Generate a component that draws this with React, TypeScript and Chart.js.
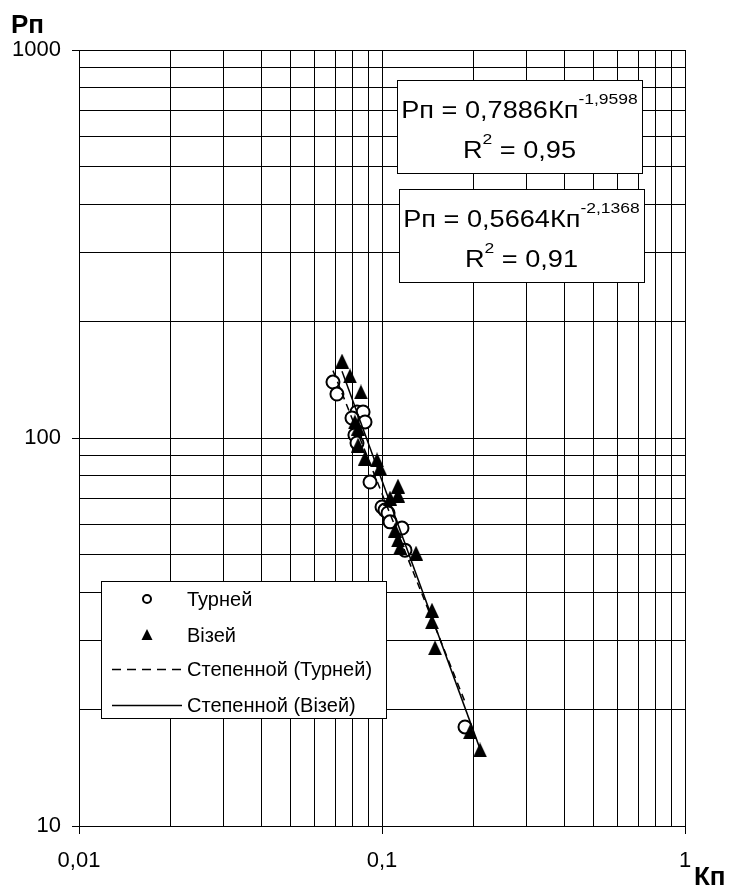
import React, { useEffect, useRef } from "react";
import { Chart, registerables } from "chart.js";

Chart.register(...registerables);

// ---- Data ----
const TOURNEY_K = [0.0689, 0.071, 0.0827, 0.0866, 0.0796, 0.0879, 0.0814, 0.0827, 0.0913, 0.1, 0.1023, 0.1047, 0.1063, 0.1164, 0.1191, 0.1879];
const TOURNEY_P = [139.4, 129.8, 116.7, 116.7, 112.6, 110.0, 101.8, 97.1, 77.0, 66.4, 65.2, 64.1, 60.8, 58.6, 51.4, 18.0];

const VISEI_K = [0.0738, 0.0784, 0.0852, 0.0814, 0.0834, 0.0834, 0.0879, 0.0963, 0.0985, 0.1129, 0.1129, 0.1063, 0.1104, 0.1129, 0.1146, 0.1295, 0.1462, 0.1462, 0.1496, 0.1952, 0.2106];
const VISEI_P = [157.9, 144.5, 131.4, 110.0, 106.1, 95.9, 88.8, 87.8, 83.7, 75.2, 71.3, 70.0, 57.9, 54.6, 52.1, 50.5, 36.0, 33.6, 28.8, 17.5, 15.7];

// power trend fits shown on the chart: P = a * K^b
const TOURNEY_FIT = [0.7886, -1.9598];
const VISEI_FIT = [0.5664, -2.1368];
const TOURNEY_R2 = "0,95";
const VISEI_R2 = "0,91";

const X_TICKS = [0.01, 0.02, 0.03, 0.04, 0.05, 0.06, 0.07, 0.08, 0.09, 0.1, 0.2, 0.3, 0.4, 0.5, 0.6, 0.7, 0.8, 0.9, 1];
const Y_TICKS = [10, 20, 30, 40, 50, 60, 70, 80, 90, 100, 200, 300, 400, 500, 600, 700, 800, 900, 1000];
const X_LABELS: Record<string, string> = { "0.01": "0,01", "0.1": "0,1", "1": "1" };
const Y_LABELS: Record<string, string> = { "10": "10", "100": "100", "1000": "1000" };

const LEGEND_LABELS = ["Турней", "Візей", "Степенной (Турней)", "Степенной (Візей)"];
const Y_TITLE = "Рп";
const X_TITLE = "Кп";

const FONT = "'Liberation Sans', Arial, sans-serif";

const fmt = (v: number) => String(v).replace(".", ",");
const isMajor = (v: number) => Math.abs(Math.log10(v) - Math.round(Math.log10(v))) < 1e-9;

function fitLine(ks: number[], fit: number[]) {
  const lo = Math.min(...ks);
  const hi = Math.max(...ks);
  return [lo, hi].map((k) => ({ x: k, y: fit[0] * Math.pow(k, fit[1]) }));
}

function makeTriangle(w: number, h: number) {
  const c = document.createElement("canvas");
  c.width = w;
  c.height = h;
  const g = c.getContext("2d")!;
  g.fillStyle = "#000";
  g.beginPath();
  g.moveTo(w / 2, 0);
  g.lineTo(w, h);
  g.lineTo(0, h);
  g.closePath();
  g.fill();
  return c;
}

function textW(ctx: CanvasRenderingContext2D, t: string, sx: number) {
  return ctx.measureText(t).width * sx;
}
function drawText(ctx: CanvasRenderingContext2D, t: string, x: number, y: number, sx: number) {
  ctx.save();
  ctx.translate(x, y);
  ctx.scale(sx, 1);
  ctx.fillText(t, 0, 0);
  ctx.restore();
}

const MAIN_SX = 1.18;
const SUP_SX = 1.25;

function drawEqBox(ctx: CanvasRenderingContext2D, box: number[], fit: number[], r2: string) {
  const [l, t, r, b] = box;
  ctx.save();
  ctx.fillStyle = "#fff";
  ctx.fillRect(l, t, r - l, b - t);
  ctx.strokeStyle = "#000";
  ctx.lineWidth = 1;
  ctx.strokeRect(l + 0.5, t + 0.5, r - l, b - t);
  ctx.fillStyle = "#000";
  ctx.textAlign = "left";
  ctx.textBaseline = "alphabetic";
  const cx = (l + r) / 2;
  const mainFont = `23px ${FONT}`;
  const supFont = `14px ${FONT}`;
  // line 1
  const t1 = `Рп = ${fmt(fit[0])}Кп`;
  const s1 = fmt(fit[1]);
  ctx.font = mainFont;
  const w1 = textW(ctx, t1, MAIN_SX);
  ctx.font = supFont;
  const ws1 = textW(ctx, s1, SUP_SX);
  let x0 = cx - (w1 + ws1) / 2;
  const y1 = t + 38;
  ctx.font = mainFont;
  drawText(ctx, t1, x0, y1, MAIN_SX);
  ctx.font = supFont;
  drawText(ctx, s1, x0 + w1, y1 - 14, SUP_SX);
  // line 2
  const a = "R";
  const s2 = "2";
  const c2 = ` = ${r2}`;
  ctx.font = mainFont;
  const wa = textW(ctx, a, MAIN_SX);
  const wc = textW(ctx, c2, MAIN_SX);
  ctx.font = supFont;
  const ws2 = textW(ctx, s2, SUP_SX);
  x0 = cx - (wa + ws2 + wc) / 2;
  const y2 = t + 78;
  ctx.font = mainFont;
  drawText(ctx, a, x0, y2, MAIN_SX);
  drawText(ctx, c2, x0 + wa + ws2, y2, MAIN_SX);
  ctx.font = supFont;
  drawText(ctx, s2, x0 + wa, y2 - 14, SUP_SX);
  ctx.restore();
}

const decorPlugin = {
  id: "decor",
  afterDraw(chart: any) {
    const ctx: CanvasRenderingContext2D = chart.ctx;
    ctx.save();
    // axis titles
    ctx.fillStyle = "#000";
    ctx.font = `bold 26px ${FONT}`;
    ctx.textAlign = "left";
    ctx.textBaseline = "alphabetic";
    ctx.fillText(Y_TITLE, 11, 33);
    ctx.fillText(X_TITLE, 694, 885);

    // equation boxes
    drawEqBox(ctx, [397, 80, 642, 173], TOURNEY_FIT, TOURNEY_R2);
    drawEqBox(ctx, [399, 189, 644, 282], VISEI_FIT, VISEI_R2);

    // legend
    const L = 101, T = 581, R = 386, B = 718;
    ctx.fillStyle = "#fff";
    ctx.fillRect(L, T, R - L, B - T);
    ctx.strokeStyle = "#000";
    ctx.lineWidth = 1;
    ctx.strokeRect(L + 0.5, T + 0.5, R - L, B - T);
    ctx.font = `20px ${FONT}`;
    ctx.textBaseline = "middle";
    ctx.fillStyle = "#000";
    const rows = [599, 635, 669, 705];
    LEGEND_LABELS.forEach((lab, i) => ctx.fillText(lab, 187, rows[i] + 1));
    // circle marker
    ctx.beginPath();
    ctx.arc(147, rows[0], 4, 0, Math.PI * 2);
    ctx.lineWidth = 2;
    ctx.strokeStyle = "#000";
    ctx.fillStyle = "#fff";
    ctx.fill();
    ctx.stroke();
    // triangle marker
    ctx.fillStyle = "#000";
    ctx.beginPath();
    ctx.moveTo(147, rows[1] - 6);
    ctx.lineTo(152.5, rows[1] + 5);
    ctx.lineTo(141.5, rows[1] + 5);
    ctx.closePath();
    ctx.fill();
    // dashed line
    ctx.lineWidth = 1.5;
    ctx.setLineDash([9, 6]);
    ctx.beginPath();
    ctx.moveTo(112, rows[2] + 0.5);
    ctx.lineTo(182, rows[2] + 0.5);
    ctx.stroke();
    ctx.setLineDash([]);
    ctx.beginPath();
    ctx.moveTo(112, rows[3] + 0.5);
    ctx.lineTo(182, rows[3] + 0.5);
    ctx.stroke();
    ctx.restore();
  },
};

export default function App() {
  const ref = useRef<HTMLCanvasElement>(null);
  useEffect(() => {
    if (!ref.current) return;
    const tri = makeTriangle(14, 15);
    const chart = new Chart(ref.current, {
      type: "scatter",
      data: {
        datasets: [
          {
            label: LEGEND_LABELS[2],
            data: fitLine(TOURNEY_K, TOURNEY_FIT),
            showLine: true,
            borderColor: "#000",
            borderWidth: 1.5,
            borderDash: [7, 5],
            pointRadius: 0,
            order: 0,
          },
          {
            label: LEGEND_LABELS[3],
            data: fitLine(VISEI_K, VISEI_FIT),
            showLine: true,
            borderColor: "#000",
            borderWidth: 1.5,
            pointRadius: 0,
            order: 0,
          },
          {
            label: LEGEND_LABELS[0],
            data: TOURNEY_K.map((k, i) => ({ x: k, y: TOURNEY_P[i] })),
            pointStyle: "circle",
            pointRadius: 6.5,
            borderWidth: 2,
            borderColor: "#000",
            backgroundColor: "#fff",
            order: 2,
          },
          {
            label: LEGEND_LABELS[1],
            data: VISEI_K.map((k, i) => ({ x: k, y: VISEI_P[i] })),
            pointStyle: tri as any,
            pointRadius: 7,
            borderColor: "#000",
            backgroundColor: "#000",
            order: 1,
          },
        ],
      },
      options: {
        animation: false,
        responsive: false,
        maintainAspectRatio: false,
        layout: { padding: { top: 50, right: 48, left: 0, bottom: 0 } },
        plugins: { legend: { display: false }, tooltip: { enabled: false } },
        scales: {
          x: {
            type: "logarithmic",
            min: 0.01,
            max: 1,
            afterBuildTicks: (s: any) => {
              s.ticks = X_TICKS.map((v) => ({ value: v }));
            },
            afterFit: (s: any) => {
              s.height = 64;
            },
            ticks: {
              autoSkip: false,
              maxRotation: 0,
              padding: 14,
              color: "#000",
              font: { family: FONT, size: 22 },
              callback: (v: any) => X_LABELS[String(v)] ?? "",
            },
            grid: {
              color: "#000",
              lineWidth: 1,
              tickLength: 8,
              tickColor: (c: any) => (c.tick && isMajor(c.tick.value) ? "#000" : "rgba(0,0,0,0)"),
            },
            border: { color: "#000", width: 1 },
          },
          y: {
            type: "logarithmic",
            min: 10,
            max: 1000,
            afterBuildTicks: (s: any) => {
              s.ticks = Y_TICKS.map((v) => ({ value: v }));
            },
            afterFit: (s: any) => {
              s.width = 79;
            },
            ticks: {
              autoSkip: false,
              padding: 11,
              color: "#000",
              font: { family: FONT, size: 22 },
              callback: (v: any) => Y_LABELS[String(v)] ?? "",
            },
            grid: {
              color: "#000",
              lineWidth: 1,
              tickLength: 7,
              tickColor: (c: any) => (c.tick && isMajor(c.tick.value) ? "#000" : "rgba(0,0,0,0)"),
            },
            border: { color: "#000", width: 1 },
          },
        },
      },
      plugins: [decorPlugin],
    });
    return () => chart.destroy();
  }, []);
  return (
    <div style={{ position: "absolute", left: 0, top: 0, width: 733, height: 890, background: "#fff" }}>
      <canvas ref={ref} width={733} height={890} style={{ display: "block" }} />
    </div>
  );
}
